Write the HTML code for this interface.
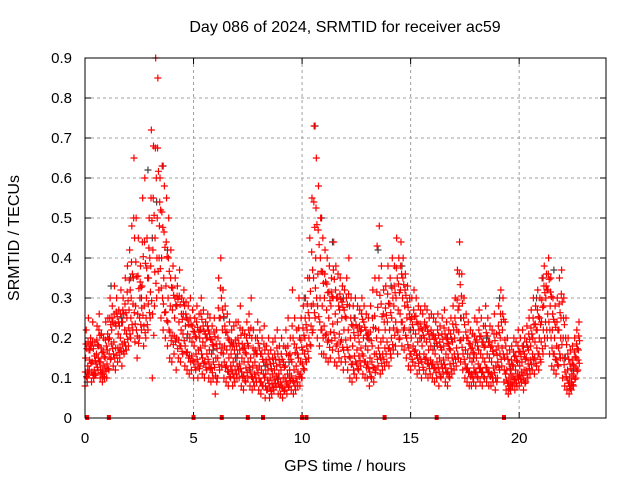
<!DOCTYPE html>
<html><head><meta charset="utf-8"><style>
body{margin:0;background:#fff}
svg text{font-family:"Liberation Sans",sans-serif;font-size:15px;fill:#000}
svg text.big{font-size:16px}
</style></head><body>
<svg id="c" width="640" height="480"></svg>
<script>
const startHour=0, stepHour=0.1;
const redMid=[.15,.13,.17,.14,.12,.16,.18,.14,.13,.15,.17,.2,.22,.19,.23,.21,.2,.24,.22,.25,.27,.3,.35,.28,.26,.3,.33,.28,.3,.35,.38,.42,.45,.5,.48,.4,.35,.33,.3,.28,.27,.25,.28,.24,.22,.26,.23,.21,.2,.19,.18,.2,.17,.22,.19,.18,.2,.17,.16,.18,.15,.2,.25,.22,.18,.17,.15,.16,.14,.15,.16,.17,.15,.14,.16,.18,.15,.13,.14,.16,.13,.12,.14,.11,.12,.1,.11,.12,.13,.11,.12,.1,.13,.11,.12,.14,.12,.13,.15,.14,.17,.2,.22,.25,.28,.35,.4,.36,.3,.28,.3,.27,.25,.28,.3,.26,.24,.27,.25,.22,.25,.22,.2,.18,.2,.17,.19,.22,.2,.18,.17,.15,.18,.16,.2,.22,.19,.2,.22,.24,.22,.25,.28,.3,.27,.32,.3,.28,.25,.22,.2,.22,.21,.19,.2,.18,.2,.19,.17,.18,.17,.16,.18,.15,.17,.18,.16,.15,.17,.19,.2,.22,.28,.25,.2,.17,.16,.15,.14,.16,.15,.17,.16,.15,.18,.16,.15,.14,.16,.13,.18,.2,.22,.15,.12,.1,.11,.13,.12,.14,.13,.14,.12,.15,.17,.18,.2,.19,.22,.2,.24,.28,.3,.32,.28,.22,.2,.18,.22,.25,.2,.15,.12,.1,.11,.13,.15,.17];
const redHi=[.22,.25,.2,.24,.19,.23,.26,.21,.2,.24,.25,.3,.28,.33,.3,.27,.32,.3,.35,.38,.42,.48,.65,.5,.45,.38,.55,.6,.45,.5,.72,.68,.9,.85,.6,.63,.58,.55,.5,.42,.38,.35,.33,.37,.3,.32,.29,.28,.3,.27,.25,.28,.26,.3,.27,.24,.26,.25,.23,.25,.22,.35,.4,.32,.28,.26,.24,.22,.23,.24,.24,.28,.22,.21,.24,.26,.3,.22,.2,.24,.22,.2,.23,.18,.2,.17,.19,.2,.22,.18,.2,.18,.22,.25,.2,.32,.25,.22,.3,.25,.28,.3,.35,.45,.55,.73,.65,.58,.5,.45,.42,.4,.38,.35,.44,.38,.36,.35,.33,.32,.35,.4,.3,.28,.3,.28,.27,.3,.28,.26,.25,.28,.32,.35,.43,.48,.38,.32,.33,.38,.35,.4,.38,.45,.4,.44,.4,.36,.33,.3,.3,.32,.3,.28,.27,.26,.28,.27,.25,.26,.25,.24,.26,.23,.25,.27,.24,.22,.25,.28,.3,.37,.44,.36,.3,.26,.24,.22,.21,.25,.24,.27,.25,.23,.28,.25,.23,.22,.26,.21,.28,.32,.3,.24,.2,.17,.18,.2,.19,.22,.2,.22,.2,.23,.25,.27,.3,.28,.32,.3,.35,.38,.36,.4,.35,.3,.28,.3,.35,.37,.3,.25,.2,.17,.18,.2,.22,.24];
const redLo=[.08,.1,.12,.09,.1,.11,.12,.1,.09,.1,.1,.12,.15,.13,.12,.14,.15,.13,.16,.17,.18,.2,.22,.19,.15,.2,.22,.18,.2,.22,.25,.1,.28,.3,.32,.25,.22,.2,.18,.15,.14,.16,.12,.15,.14,.16,.13,.12,.11,.12,.1,.12,.1,.13,.11,.1,.12,.1,.09,.1,.06,.1,.12,.13,.1,.09,.08,.1,.08,.09,.1,.1,.08,.07,.09,.1,.08,.07,.08,.09,.07,.06,.08,.05,.07,.05,.06,.07,.08,.06,.06,.05,.07,.06,.08,.07,.06,.07,.08,.08,.1,.12,.14,.15,.18,.22,.25,.2,.18,.16,.16,.15,.14,.15,.17,.14,.13,.15,.14,.12,.14,.12,.1,.09,.11,.1,.12,.13,.11,.1,.1,.08,.1,.09,.12,.13,.11,.12,.13,.14,.13,.15,.17,.18,.16,.2,.18,.17,.15,.13,.12,.14,.13,.11,.12,.1,.12,.11,.1,.11,.1,.09,.1,.08,.1,.11,.09,.08,.1,.11,.12,.13,.15,.14,.12,.1,.09,.08,.08,.09,.08,.1,.09,.08,.1,.09,.08,.08,.09,.07,.1,.12,.13,.09,.07,.06,.07,.08,.07,.08,.08,.09,.07,.09,.1,.11,.12,.11,.13,.12,.14,.16,.18,.2,.16,.13,.12,.11,.13,.15,.1,.08,.07,.06,.07,.08,.1,.12];
const blackT=[0.1,0.6,1.2,1.7,2.1,2.6,2.9,3.1,3.3,3.6,3.8,4.2,4.7,5.3,5.9,6.4,7.0,7.6,8.3,8.9,9.4,10.1,10.6,10.9,11.4,11.9,12.4,13.0,13.5,14.1,14.6,15.0,15.5,16.1,16.7,17.3,17.9,18.5,19.1,19.6,20.2,20.8,21.1,21.6,22.1,22.5];
const blackV=[.09,.18,.33,.25,.35,.3,.62,.45,.54,.63,.42,.28,.2,.22,.17,.25,.15,.12,.13,.1,.14,.3,.73,.5,.44,.3,.25,.2,.42,.33,.38,.22,.2,.18,.2,.25,.15,.2,.3,.12,.18,.3,.35,.37,.15,.12];
const zeroT=[0.1,1.1,5.0,6.3,7.5,8.2,10.0,10.2,13.8,16.2,19.3];
const xTicks=[0,5,10,15,20];
const yTicks=[0,0.1,0.2,0.3,0.4,0.5,0.6,0.7,0.8,0.9];
const L=85,R=606,T=58,B=418,XMAX=24,YMAX=0.9;
const sx=v=>L+v/XMAX*(R-L), sy=v=>B-v/YMAX*(B-T);
const svg=document.getElementById('c'),NS='http://www.w3.org/2000/svg';
function mk(t,a,p){const e=document.createElementNS(NS,t);for(const k in a)e.setAttribute(k,a[k]);(p||svg).appendChild(e);return e;}
const grid=mk('g',{});


yTicks.forEach(v=>{
 if(v>0&&v<YMAX)mk('line',{x1:L,x2:R,y1:sy(v),y2:sy(v),stroke:'#a0a0a0','stroke-dasharray':'3,3'},grid);
 mk('line',{x1:L,x2:L+6,y1:sy(v),y2:sy(v),stroke:'#000'},grid);
 mk('line',{x1:R-6,x2:R,y1:sy(v),y2:sy(v),stroke:'#000'},grid);
 const t=mk('text',{x:L-13,y:sy(v)+5,'text-anchor':'end'});
 
 
 t.textContent=v===0?'0':String(v);
});
xTicks.forEach(v=>{
 if(v>0)mk('line',{x1:sx(v),x2:sx(v),y1:T,y2:B,stroke:'#a0a0a0','stroke-dasharray':'3,3'},grid);
 mk('line',{x1:sx(v),x2:sx(v),y1:B,y2:B-6,stroke:'#000'},grid);
 mk('line',{x1:sx(v),x2:sx(v),y1:T,y2:T+6,stroke:'#000'},grid);
 const t=mk('text',{x:sx(v),y:B+25,'text-anchor':'middle'});
 
 
 t.textContent=v;
});
function plus(x,y,c,g){mk('path',{d:`M${x-3.5} ${y}h7M${x} ${y-3.5}v7`,stroke:c,'stroke-width':1.2,fill:'none'},g);}
const gb=mk('g',{});


blackT.forEach((t,i)=>plus(sx(t),sy(blackV[i]),'#404040',gb));
const gr=mk('g',{});


redMid.forEach((m,i)=>{
 const t=startHour+i*stepHour, lo=redLo[i], hi=redHi[i];
 const pts=[lo,(lo+m)/2,m,(m+hi)/2,hi,(lo*2+m)/3,(m*2+hi)/3];
 pts.forEach((v,k)=>plus(sx(t+k*0.014),sy(v),'#ff0000',gr));
});
zeroT.forEach(t=>{mk('rect',{x:sx(t)-2,y:B-3,width:4,height:5,fill:'#ff0000'},gr);});
const f=mk('rect',{x:L,y:T,width:R-L,height:B-T,fill:'none',stroke:'#000'});


const ti=mk('text',{x:345,y:32,'text-anchor':'middle',class:'big'});ti.textContent='Day 086 of 2024, SRMTID for receiver ac59';


const xl=mk('text',{x:345,y:471,'text-anchor':'middle',class:'big'});xl.textContent='GPS time / hours';


const yl=mk('text',{x:19,y:238,'text-anchor':'middle',class:'big',transform:'rotate(-90 19 238)'});yl.textContent='SRMTID / TECUs';


</script>
</body></html>
